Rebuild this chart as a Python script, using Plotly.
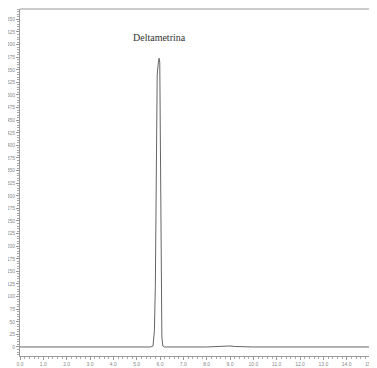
import plotly.graph_objects as go

time_min = [0.0, 2.0, 4.0, 5.60, 5.70, 5.74, 5.76, 5.80, 5.84, 5.88, 5.92, 5.96, 5.99, 6.02,
            6.04, 6.06, 6.08, 6.12, 6.20, 8.0, 8.6, 8.8, 8.9, 9.0, 9.2, 10.0, 15.3]
signal = [0, 0, 0, 0, 2, 30, 32, 120, 400, 540, 560, 573, 565, 420,
          250, 100, 20, 2, 0, 0, 1, 2, 2.5, 2, 1, 0, 0]

annot_text = "Deltametrina"
annot_x = 5.98
annot_y = 600

fig = go.Figure()
fig.add_trace(go.Scatter(x=time_min, y=signal, mode="lines",
                         line=dict(color="#666666", width=1), hoverinfo="skip"))

fig.add_annotation(x=annot_x, y=annot_y, text=annot_text, showarrow=False,
                   font=dict(family="Liberation Serif", size=10, color="#333333"),
                   yanchor="bottom")

# page body has an 8px margin; size the figure so it fills the window
fig.update_layout(
    width=369, height=360,
    margin=dict(l=12, r=0, t=1, b=12, autoexpand=False),
    paper_bgcolor="white", plot_bgcolor="white",
    showlegend=False,
    xaxis=dict(range=[0, 15.3], tickmode="linear", tick0=0, dtick=1, tickformat=".1f",
               automargin=False,
               showgrid=False, zeroline=False, showline=True, linecolor="#999999",
               linewidth=1, mirror=False, ticks="outside", ticklen=3, tickcolor="#999999",
               tickfont=dict(family="Liberation Sans", size=5, color="#888888"),
               minor=dict(dtick=0.2, ticks="outside", ticklen=2, tickcolor="#aaaaaa")),
    yaxis=dict(range=[-17.9, 670.6], tickmode="linear", tick0=0, dtick=25,
               automargin=False,
               showgrid=False, zeroline=False, showline=True, linecolor="#999999",
               linewidth=1, ticks="outside", ticklen=3, tickcolor="#999999",
               tickfont=dict(family="Liberation Sans", size=5, color="#888888"),
               minor=dict(dtick=5, ticks="outside", ticklen=2, tickcolor="#aaaaaa")),
)
fig.add_shape(type="line", xref="paper", yref="paper", x0=0, x1=1, y0=1, y1=1,
              line=dict(color="#999999", width=1))

fig.write_html("out.html")
